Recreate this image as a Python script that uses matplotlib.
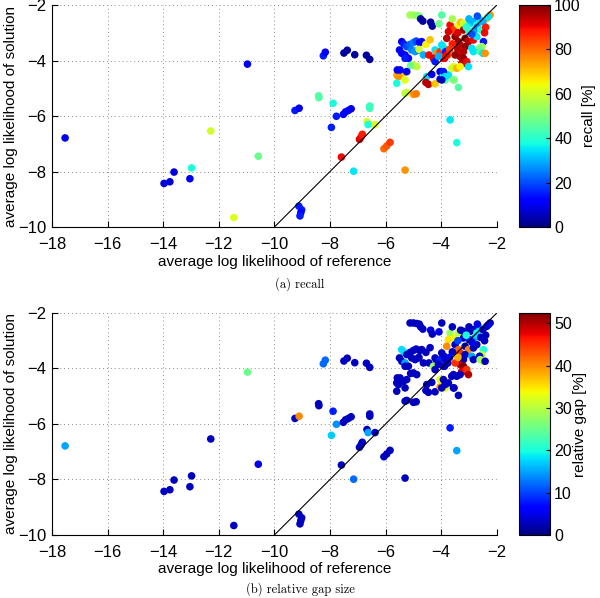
import numpy as np
import matplotlib.pyplot as plt

# average log likelihood of reference (x) and of solution (y), one entry per instance
ref_ll = [-17.53, -10.97, -9.26, -9.11, -12.29, -10.58, -12.98, -13.61, -13.04, -13.76,
          -13.97, -11.46, -9.12, -9.02, -9.05, -9.08, -8.41, -8.40, -8.24, -8.17,
          -7.50, -7.38, -7.11, -6.69, -6.57, -7.89, -7.77, -7.95, -7.52, -7.44,
          -7.34, -7.24, -6.57, -6.57, -6.67, -6.63, -6.38, -6.94, -6.88, -6.84,
          -7.59, -7.15, -6.06, -5.96, -5.84, -5.30, -3.68, -3.44, -3.38,
          -5.12, -5.00, -4.88, -4.79, -4.74, -4.66, -3.98, -4.38, -4.32, -4.08,
          -5.42, -5.34, -5.24, -5.12, -5.00, -4.90, -4.78, -4.70, -5.50, -5.42,
          -5.30, -5.18, -5.30, -5.06, -4.94, -4.82, -4.80, -4.55, -4.64, -4.44,
          -4.22, -4.16, -4.04, -4.28, -4.22, -3.90, -3.84, -3.88, -3.76,
          -5.00, -4.88, -5.10, -5.48, -5.36, -5.60, -5.54, -5.24, -5.58, -5.48,
          -5.60, -5.30, -4.52, -4.34, -4.55, -4.46, -4.22, -4.04, -4.04, -3.92,
          -3.86, -3.74, -5.24, -5.00, -4.90, -5.30, -3.54,
          -2.24, -2.36, -3.68, -3.56, -3.74, -3.38, -3.30, -3.20, -3.20, -2.96,
          -2.84, -2.72, -2.60, -3.80, -3.50, -3.38, -3.32, -3.14, -3.02, -3.14,
          -3.20, -2.84, -2.72, -2.48, -2.54, -2.62, -2.90, -2.84, -2.60, -2.50,
          -2.42, -3.80, -3.92, -3.98, -3.32, -3.20, -3.14, -3.26, -3.08, -3.02,
          -3.56, -3.62, -3.44, -3.32, -3.92, -3.86, -3.98, -3.56,
          -2.80, -2.70, -2.50, -3.00, -3.40, -2.90, -2.58, -2.40, -2.44, -3.60,
          -3.70, -3.50, -3.40, -2.30, -3.10, -4.10, -4.40, -3.60, -3.00, -2.70]
sol_ll = [-6.79, -4.13, -5.80, -5.72, -6.54, -7.45, -7.87, -8.02, -8.26, -8.37,
          -8.43, -9.66, -9.25, -9.38, -9.48, -9.60, -5.27, -5.34, -3.83, -3.70,
          -3.73, -3.63, -3.79, -3.81, -3.96, -5.54, -6.01, -6.41, -5.94, -5.85,
          -5.80, -5.74, -5.64, -5.72, -6.20, -6.31, -6.31, -6.84, -6.75, -6.66,
          -7.48, -7.99, -7.18, -7.08, -6.95, -7.95, -6.14, -6.96, -4.97,
          -2.36, -2.36, -2.38, -2.40, -2.50, -2.58, -2.36, -2.62, -2.76, -2.68,
          -3.32, -3.41, -3.50, -3.42, -3.35, -3.30, -3.35, -3.32, -3.62, -3.74,
          -3.80, -3.92, -3.92, -3.62, -3.68, -3.62, -3.60, -3.42, -3.80, -3.80,
          -3.62, -3.74, -3.68, -3.92, -4.04, -3.56, -3.68, -3.92, -3.80,
          -4.16, -4.22, -4.18, -4.40, -4.46, -4.52, -4.58, -4.40, -4.34, -4.34,
          -4.82, -4.70, -4.58, -4.50, -4.79, -4.86, -4.84, -4.67, -4.40, -4.52,
          -4.70, -4.52, -5.15, -5.22, -5.20, -5.18, -4.70,
          -2.36, -2.48, -2.72, -2.90, -2.96, -2.72, -2.62, -2.66, -2.90, -2.66,
          -2.60, -2.72, -2.54, -3.20, -3.14, -3.32, -3.44, -3.20, -3.32, -3.50,
          -3.68, -3.26, -3.14, -3.32, -3.50, -3.56, -3.56, -3.68, -3.68, -3.74,
          -3.74, -3.80, -3.92, -3.44, -3.86, -3.92, -4.10, -4.10, -4.04, -4.22,
          -4.22, -4.28, -4.28, -4.22, -4.40, -4.58, -4.70, -4.70,
          -2.90, -2.80, -2.60, -2.95, -3.00, -3.05, -2.88, -2.80, -3.00, -3.40,
          -3.60, -3.80, -3.60, -2.42, -2.80, -3.85, -3.25, -2.50, -2.50, -2.40]
recall = [10, 10, 15, 10, 60, 48, 38, 8, 10, 8,
          8, 62, 15, 15, 12, 15, 45, 45, 15, 12,
          3, 3, 3, 3, 3, 38, 15, 15, 10, 12,
          12, 10, 42, 42, 60, 38, 62, 92, 90, 88,
          90, 35, 80, 82, 85, 75, 35, 38, 45,
          55, 55, 52, 50, 3, 3, 45, 3, 3, 48,
          10, 15, 20, 22, 25, 20, 12, 12, 10, 12,
          10, 12, 15, 25, 28, 20, 60, 65, 30, 90,
          35, 75, 85, 92, 15, 35, 15, 95, 80,
          60, 58, 48, 72, 70, 72, 75, 10, 10, 12,
          38, 62, 35, 10, 95, 95, 70, 10, 10, 40,
          45, 35, 60, 75, 78, 58, 45,
          75, 72, 90, 85, 92, 65, 70, 60, 98, 35,
          30, 38, 35, 95, 98, 98, 95, 98, 95, 98,
          95, 90, 35, 15, 55, 50, 35, 35, 45, 35,
          75, 90, 90, 35, 95, 98, 98, 95, 90, 35,
          62, 60, 72, 65, 15, 35, 5, 50,
          30, 25, 30, 40, 92, 20, 40, 88, 90, 88,
          85, 98, 95, 35, 40, 30, 70, 55, 30, 20]
gap = [15, 25, 3, 40, 3, 5, 3, 3, 3, 3,
       3, 3, 3, 3, 3, 3, 3, 3, 12, 12,
       3, 3, 3, 3, 3, 8, 14, 17, 3, 3,
       3, 3, 3, 3, 3, 15, 3, 3, 3, 3,
       3, 12, 3, 3, 3, 3, 8, 15, 3,
       3, 3, 3, 3, 3, 3, 3, 5, 3, 5,
       18, 18, 3, 3, 3, 3, 3, 3, 3, 3,
       15, 3, 3, 3, 3, 3, 3, 3, 3, 3,
       3, 3, 8, 28, 3, 5, 3, 3, 3,
       3, 3, 3, 3, 3, 3, 3, 3, 3, 3,
       3, 3, 3, 3, 3, 3, 3, 40, 33, 35,
       33, 3, 3, 3, 3, 3, 3,
       3, 3, 28, 33, 35, 30, 3, 3, 3, 3,
       3, 20, 18, 40, 3, 42, 45, 3, 40, 3,
       3, 3, 3, 20, 30, 3, 15, 3, 28, 30,
       3, 3, 3, 3, 50, 52, 50, 48, 45, 50,
       3, 3, 3, 3, 3, 3, 3, 3,
       15, 18, 3, 8, 10, 5, 3, 3, 3, 3,
       5, 45, 38, 5, 20, 3, 3, 3, 3, 5]

diag = [-10, -2]
xticks = np.arange(-18, -1, 2)
yticks = np.arange(-10, -1, 2)

plt.rcParams['font.family'] = ['Liberation Sans', 'DejaVu Sans']
fig = plt.figure(figsize=(6, 5.98), dpi=100)

panels = [
    (recall, 0, 100, np.arange(0, 101, 20), 'recall [%]', '(a) recall', 0.6204, 0.514),
    (gap, 0, 52.4, np.arange(0, 51, 10), 'relative gap [%]', '(b) relative gap size', 0.1054, 0.003),
]
for vals, vmin, vmax, cticks, clabel, caption, bottom, cap_y in panels:
    ax = fig.add_axes([0.0867, bottom, 0.7413, 0.3712])
    cax = fig.add_axes([0.865, bottom, 0.0517, 0.3712])
    sc = ax.scatter(ref_ll, sol_ll, c=vals, cmap='jet', vmin=vmin, vmax=vmax,
                    s=30, linewidths=0, zorder=3)
    ax.plot(diag, diag, color='k', lw=0.8, zorder=4)
    ax.set_xlim(-18, -2)
    ax.set_ylim(-10, -2)
    ax.set_xticks(xticks)
    ax.set_yticks(yticks)
    ax.grid(True, color='0.55', linestyle=(0, (1, 3)), lw=0.7)
    ax.set_axisbelow(True)
    for side in ['top', 'right']:
        ax.spines[side].set_visible(False)
    ax.tick_params(direction='in', length=4, labelsize=12)
    ax.tick_params(axis='x', pad=7)
    ax.tick_params(axis='y', pad=4)
    ax.set_xlabel('average log likelihood of reference', fontsize=11, labelpad=2)
    ax.set_ylabel('average log likelihood of solution', fontsize=11, labelpad=0)

    cb = fig.colorbar(sc, cax=cax)
    cb.set_ticks(cticks)
    cb.ax.tick_params(direction='in', length=3, labelsize=11.5, pad=3)
    cb.outline.set_linewidth(0.8)
    cb.set_label(clabel, fontsize=11, labelpad=1)

    fig.text(0.5, cap_y, caption, ha='center', va='bottom', fontsize=9,
             family='cmr10')

fig.savefig('out.png', dpi=100)
